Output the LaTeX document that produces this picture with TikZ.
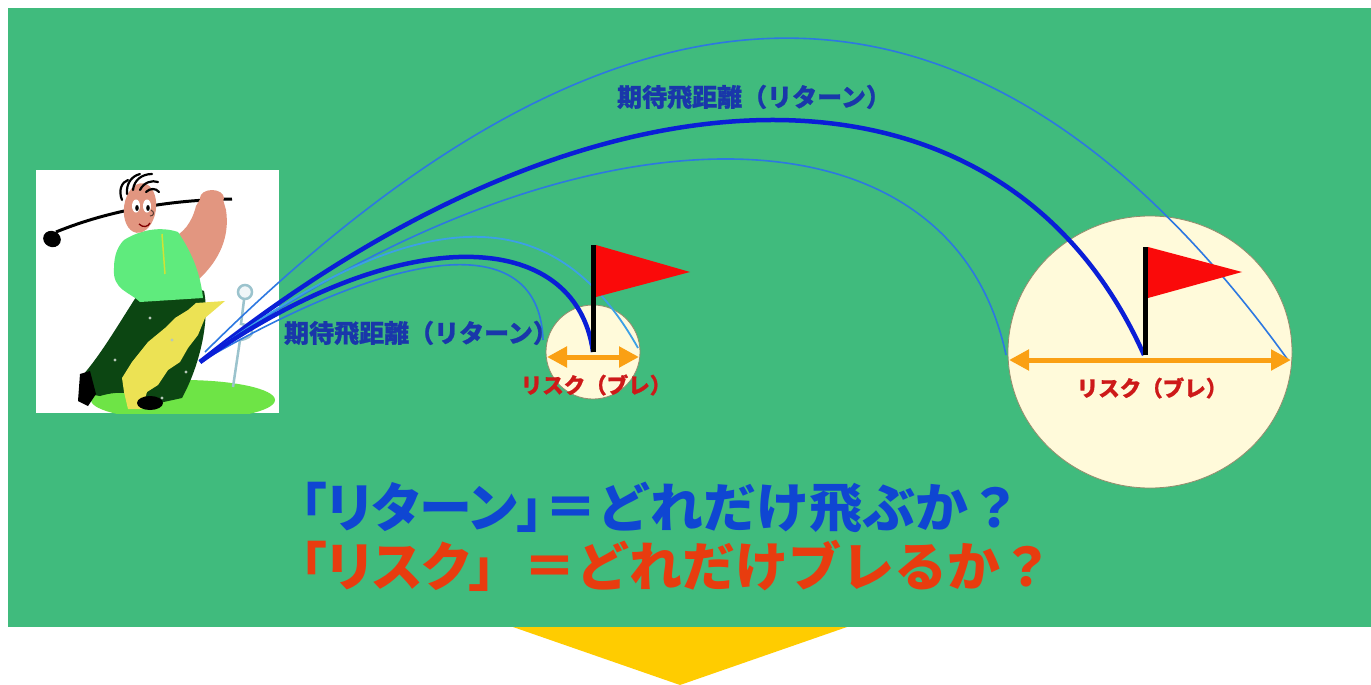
\documentclass[tikz,border=0pt]{standalone}
\usepackage{fontspec}
\newfontfamily\jp{Noto Sans CJK JP}
\newfontfamily\jpheavy{Noto Sans CJK JP}[FakeBold=0.8]
\newcommand{\propwidth}[1]{{\addfontfeature{RawFeature=+palt}#1}}
\usetikzlibrary{arrows.meta}
\definecolor{turf}{RGB}{64,187,125}
\definecolor{cream}{RGB}{255,250,218}
\definecolor{rimgray}{RGB}{150,140,110}
\definecolor{flagred}{RGB}{250,10,10}
\definecolor{riskorange}{RGB}{250,160,20}
\definecolor{risktext}{RGB}{205,25,25}
\definecolor{labelblue}{RGB}{25,55,170}
\definecolor{thinblue}{RGB}{45,120,225}
\definecolor{lightblue}{RGB}{60,160,230}
\definecolor{thickblue}{RGB}{10,30,215}
\definecolor{returnblue}{RGB}{15,70,210}
\definecolor{riskred}{RGB}{232,60,15}
\definecolor{arrowyellow}{RGB}{255,204,0}
\definecolor{skin}{RGB}{226,150,128}
\definecolor{shirt}{RGB}{95,235,125}
\definecolor{pants}{RGB}{12,70,18}
\definecolor{patch}{RGB}{236,226,84}
\definecolor{grass}{RGB}{110,228,70}
\definecolor{teegray}{RGB}{155,195,205}
\tikzset{
  thinshot/.style={draw=thinblue, line width=1.6pt},
  paleshot/.style={draw=lightblue, line width=1.8pt},
  thickshot/.style={draw=thickblue, line width=4.5pt},
  green/.style={fill=cream, draw=rimgray, line width=0.8pt},
  pole/.style={draw=black, line width=5pt},
  pennant/.style={fill=flagred},
  riskarrow/.style={draw=riskorange, line width=5pt,
    {Triangle[length=20pt,width=20pt]}-{Triangle[length=20pt,width=20pt]}},
  distlabel/.style={font=\jpheavy\bfseries\fontsize{25}{25}\selectfont, text=labelblue, inner sep=0pt},
  risklabel/.style={font=\jpheavy\bfseries\fontsize{21.5}{21.5}\selectfont, text=risktext, inner sep=0pt},
  bigline/.style={font=\jp\bfseries\fontsize{53}{53}\selectfont, inner sep=0pt, anchor=west},
}
\begin{document}
\begin{tikzpicture}[x=1pt,y=-1pt]
\useasboundingbox (0,0) rectangle (1371,685);
\fill[white] (0,0) rectangle (1371,685);
% playing field
\fill[turf] (8,8) rectangle (1371,627);
% downward arrow below the field
\fill[arrowyellow] (513,627) -- (847,627) -- (680,685) -- cycle;

% ---------- golfer panel ----------
\fill[white] (36,170) rectangle (279,413);
\begin{scope}
\clip (36,170) rectangle (279,413);
\fill[grass] (183,400) ellipse (92 and 20);
\end{scope}
% tee
\draw[teegray, line width=2.5pt, fill=white!85!teegray] (245,292) circle (7);
\draw[teegray, line width=2.5pt] (244,300) -- (241,324) .. controls (256,326) and (256,338) .. (240,340) -- (233,387);
% club
\draw[black, line width=3pt] (56,232) .. controls (110,210) and (170,200) .. (232,199);
\fill[black, rotate around={-25:(52,239)}] (52,239) ellipse (9 and 8);
% trousers
\fill[pants] (138,294) .. controls (160,287) and (190,285) .. (204,291)
  .. controls (210,320) and (200,365) .. (182,398)
  -- (150,405) .. controls (138,392) and (120,390) .. (100,396)
  -- (88,394) -- (82,376) .. controls (100,356) and (118,325) .. cycle;
\fill[patch] (196,303) -- (225,301) -- (205,318) -- (198,335) -- (188,348)
  -- (180,362) -- (168,370) -- (158,385) -- (147,392) -- (142,409)
  -- (128,409) -- (124,392) -- (122,378) -- (132,362) -- (148,342)
  -- (165,328) -- (175,318) -- (188,310) -- cycle;
\foreach \p in {(150,318),(172,340),(186,372),(162,398),(115,360)}
  \fill[white!70!pants] \p circle (1.6);
% shoes
\fill[black] (80,374) -- (90,371) -- (96,394) -- (88,406) -- (78,401) -- cycle;
\fill[black] (150,403) ellipse (13 and 7);
% arm and hand
\fill[skin] (168,240) .. controls (184,234) and (192,222) .. (196,206)
  -- (202,196) -- (222,196) -- (226,210)
  .. controls (230,236) and (220,260) .. (198,280)
  .. controls (186,280) and (176,265) .. cycle;
\fill[skin] (212,198) ellipse (12 and 8);
% shirt
\fill[shirt] (124,240) .. controls (140,230) and (160,226) .. (178,232)
  .. controls (190,250) and (200,270) .. (203,298)
  -- (140,302) .. controls (130,292) and (112,290) .. (114,268)
  .. controls (114,255) and (118,246) .. cycle;
\draw[yellow!70!shirt, line width=1.5pt] (162,234) -- (165,274);
% head
\fill[skin, rotate around={-8:(140,208)}] (140,208) ellipse (16 and 25);
\fill[white] (136,206) ellipse (4 and 6.5);
\fill[white] (147,206) ellipse (4 and 6.5);
\fill[black] (137,208) ellipse (1.8 and 3);
\fill[black] (148,208) ellipse (1.8 and 3);
\draw[black!60!skin, line width=1pt] (151,210) .. controls (155,212) and (154,216) .. (150,216);
\draw[red!50!black, line width=1.3pt] (139,224) .. controls (143,228) and (148,227) .. (150,223);
% hair
\begin{scope}[black, line width=2.2pt, line cap=round]
\draw (122,200) .. controls (118,190) and (122,182) .. (128,180);
\draw (127,194) .. controls (126,183) and (132,176) .. (140,174);
\draw (133,190) .. controls (134,180) and (142,174) .. (152,174);
\draw (140,190) .. controls (144,182) and (152,180) .. (158,182);
\draw (146,192) .. controls (150,188) and (156,188) .. (159,192);
\end{scope}

% ---------- greens ----------
\coordinate (tee) at (200,362);
\coordinate (teeHi) at (205,352);
\filldraw[green] (593,352) circle (47);
\filldraw[green] (1150,352) ellipse (142 and 136);

% ball flights
\coordinate (nearShort) at (543,340);
\coordinate (nearPin) at (593,352);
\coordinate (nearLong) at (638,348);
\coordinate (farShort) at (1006,355);
\coordinate (farPin) at (1144,355);
\coordinate (farLong) at (1288,360);
\draw[thinshot] (teeHi) .. controls (600,-40) and (960,-95) .. (farLong);
\draw[thinshot] (tee) .. controls (570,95) and (950,90) .. (farShort);
\draw[thickshot] (tee) .. controls (602,40) and (1004,41) .. (farPin);
\draw[paleshot] (tee) .. controls (420,197) and (554,198) .. (nearLong);
\draw[thinshot] (tee) .. controls (425,232) and (540,240) .. (nearShort);
\draw[thickshot] (tee) .. controls (400,220) and (576,227) .. (nearPin);

% flags
\draw[pole] (593,352) -- (593,245);
\fill[pennant] (596,245) -- (690,272) -- (596,297) -- cycle;
\draw[pole] (1145,355) -- (1145,247);
\fill[pennant] (1148,247) -- (1242,272) -- (1148,298) -- cycle;

% spread arrows
\coordinate (sL) at (547,357);
\coordinate (sR) at (639,357);
\coordinate (bL) at (1009,360);
\coordinate (bR) at (1291,360);
\draw[riskarrow] (sL) -- (sR);
\draw[riskarrow] (bL) -- (bR);

% labels
\node[distlabel] (farDist) at (754,97) {期待飛距離（リターン）};
\node[distlabel] (nearDist) at (421,333) {期待飛距離（リターン）};
\node[risklabel] (nearRisk) at (596,385) {リスク（ブレ）};
\node[risklabel] (farRisk) at (1152,388) {リスク（ブレ）};

% summary lines
\node[bigline, text=returnblue] (retLine) at (300,508) {\propwidth{「リターン」}＝どれだけ飛ぶか？};
\node[bigline, text=riskred] (riskLine) at (300,566) {\propwidth{「リスク」}\hspace{27pt}＝どれだけブレるか？};
\end{tikzpicture}
\end{document}
